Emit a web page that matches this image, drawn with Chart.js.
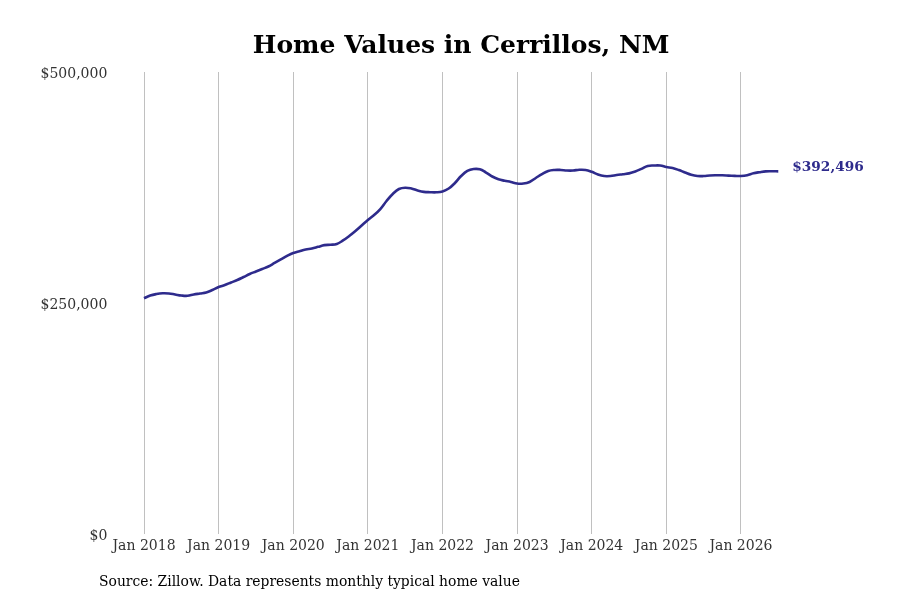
<!DOCTYPE html>
<html>
<head>
    <title>Home Values in Cerrillos, NM</title>
    <script src="https://cdn.jsdelivr.net/npm/chart.js"></script>
    <style>
        html, body { margin: 0; padding: 0; background: #fff; }
        .chart-container { width: 900px; height: 600px; }
    </style>
</head>
<body>
<div class="chart-container">
    <canvas id="homeValueChart" width="900" height="600"></canvas>
</div>
<script>
    // Monthly typical home value, Jan 2018 .. Jul 2026 (in dollars)
    const startYear = 2018;
    const homeValues = [
        255100, 258100, 259700, 260500, 260300, 259200, 258100, 257800, 259200, 260300, 261400, 264100,
        267300, 269500, 272200, 274900, 278100, 281400, 284100, 286800, 289500, 293300, 297100, 300900,
        304100, 306100, 307900, 309000, 310800, 312600, 313000, 313900, 317700, 322500, 327900, 333900,
        339800, 345200, 351700, 360400, 368000, 373400, 374800, 373900, 371800, 370300, 369900, 369800,
        370700, 373900, 379900, 387400, 392900, 395000, 394700, 391200, 386900, 383900, 382300, 381000,
        379300, 379300, 381000, 385300, 389600, 392900, 394000, 394000, 393400, 393400, 394200, 394000,
        392000, 389100, 387400, 387400, 388500, 389400, 390300, 392300, 395200, 398300, 398800, 398800,
        397200, 396100, 393900, 391200, 388700, 387400, 387400, 388000, 388200, 388200, 387900, 387600,
        387400, 388300, 390400, 391600, 392500, 392600, 392496
    ];
    const yearTicks = [0, 12, 24, 36, 48, 60, 72, 84, 96];
    const valueTicks = [0, 250000, 500000];

    const lineColor = '#2e2b8c';
    const serif = "'DejaVu Serif', 'Liberation Serif', serif";

    function money(v) {
        return '$' + Math.round(v).toLocaleString('en-US');
    }

    const notes = {
        id: 'notes',
        afterDraw(chart) {
            const ctx = chart.ctx;
            const xs = chart.scales.x, ys = chart.scales.y;
            const last = homeValues.length - 1;
            ctx.save();
            ctx.font = 'bold 13.7px ' + serif;
            ctx.fillStyle = lineColor;
            ctx.textAlign = 'left';
            ctx.textBaseline = 'middle';
            ctx.fillText(money(homeValues[last]),
                xs.getPixelForValue(last) + 14, ys.getPixelForValue(homeValues[last]) - 4);

            ctx.font = '13.9px ' + serif;
            ctx.fillStyle = '#000';
            ctx.fillText('Source: Zillow. Data represents monthly typical home value', 99, 582);
            ctx.restore();
        }
    };

    new Chart(document.getElementById('homeValueChart').getContext('2d'), {
        type: 'line',
        data: {
            datasets: [{
                label: 'Home value',
                data: homeValues.map((v, i) => ({ x: i, y: v })),
                borderColor: lineColor,
                borderWidth: 2.6,
                pointRadius: 0,
                fill: false,
                tension: 0.4
            }]
        },
        options: {
            responsive: false,
            animation: false,
            layout: { padding: { left: 0, right: 90, top: 0, bottom: 0 } },
            plugins: {
                legend: { display: false },
                tooltip: { enabled: false },
                title: {
                    display: true,
                    text: 'Home Values in Cerrillos, NM',
                    fullSize: false,
                    color: '#000',
                    font: { family: serif, size: 25, weight: 'bold' },
                    padding: { top: 31, bottom: 11 }
                }
            },
            scales: {
                x: {
                    type: 'linear',
                    min: -5.1,
                    max: 107.1,
                    afterFit: s => { s.height = 66; },
                    afterBuildTicks: s => { s.ticks = yearTicks.map(v => ({ value: v })); },
                    border: { display: false },
                    grid: { color: '#c0c0c0', lineWidth: 1, drawTicks: false },
                    ticks: {
                        autoSkip: false,
                        maxRotation: 0,
                        padding: 4,
                        color: '#333',
                        font: { family: serif, size: 14 },
                        callback: v => 'Jan ' + (startYear + v / 12)
                    }
                },
                y: {
                    min: 0,
                    max: 500000,
                    afterFit: s => { s.width = 112.3; },
                    afterBuildTicks: s => { s.ticks = valueTicks.map(v => ({ value: v })); },
                    border: { display: false },
                    grid: { display: false, drawTicks: false },
                    ticks: {
                        padding: 5,
                        labelOffset: 2,
                        color: '#333',
                        font: { family: serif, size: 14 },
                        callback: v => money(v)
                    }
                }
            }
        },
        plugins: [notes]
    });
</script>
</body>
</html>
